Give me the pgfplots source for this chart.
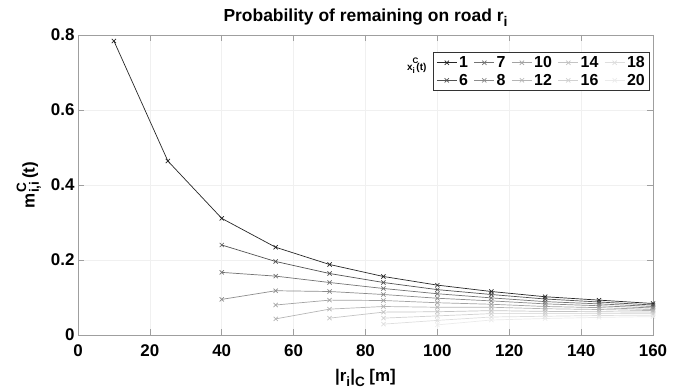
\documentclass[border=0pt]{standalone}
\usepackage{pgfplots}
\pgfplotsset{compat=1.18}
\usepackage{graphicx}
\usepackage{fontspec}
\setmainfont{Liberation Sans}

% sub- and superscripts set close to full size
\newcommand\sub[1]{\raisebox{-0.5ex}{\scalebox{0.8}{#1}}}
\newcommand\supsub[2]{\rlap{\raisebox{0.95ex}{\scalebox{0.8}{#1}}}\raisebox{-0.5ex}{\scalebox{0.8}{#2}}}
\newcommand\supsubwide[2]{\rlap{\raisebox{1.35ex}{\scalebox{0.8}{#1}}}\raisebox{-0.7ex}{\scalebox{0.8}{#2}}}

% grey ramp for the ten initial counts
\definecolor{g1}{gray}{0.15}
\definecolor{g6}{gray}{0.32}
\definecolor{g7}{gray}{0.45}
\definecolor{g8}{gray}{0.55}
\definecolor{g10}{gray}{0.64}
\definecolor{g12}{gray}{0.71}
\definecolor{g14}{gray}{0.77}
\definecolor{g16}{gray}{0.82}
\definecolor{g18}{gray}{0.87}
\definecolor{g20}{gray}{0.92}

\begin{document}
\begin{tikzpicture}
\begin{axis}[
  width=575bp, height=300bp, scale only axis,
  xmin=0, xmax=160, ymin=0, ymax=0.8,
  xtick={0,20,40,60,80,100,120,140,160},
  ytick={0,0.2,0.4,0.6,0.8},
  yticklabel style={/pgf/number format/fixed},
  xticklabel style={yshift=-6bp},
  /pgf/number format/assume math mode=true,
  ticklabel style={font=\fontsize{17}{17}\selectfont\bfseries},
  grid=major, grid style={gray!12, line width=0.6bp},
  axis line style={gray!75, line width=0.7bp},
  tick align=inside, major tick length=6bp,
  tick style={gray!75, line width=0.7bp},
  title={\bfseries Probability of remaining on road r\sub{i}},
  title style={font=\fontsize{17.5}{17.5}\selectfont, yshift=-1bp},
  xlabel={\bfseries |r\sub{i}|\sub{C} [m]},
  ylabel={\bfseries m\supsub{C}{i,i}\,(t)},
  label style={font=\fontsize{17}{17}\selectfont},
  xlabel style={yshift=-6bp},
  ylabel style={yshift=3bp},
  every axis plot/.append style={line width=0.7bp, mark=x, mark size=3bp},
  legend columns=5,
  legend style={at={(0.995,0.943)}, anchor=north east,
    font=\fontsize{16}{16}\selectfont\bfseries, draw=black!80,
    line width=0.7bp, row sep=1bp,
    /tikz/every even column/.append style={column sep=4bp}},
  legend image code/.code={\draw[#1] (0bp,0bp) -- (20bp,0bp);
    \draw[#1, mark repeat=1] plot coordinates {(10bp,0bp)};},
]
% count 1
\addplot[g1] coordinates {(10,0.784)(25,0.464)(40,0.311)(55,0.234)(70,0.188)(85,0.156)(100,0.133)(115,0.116)(130,0.102)(145,0.093)(160,0.084)};
\addlegendentry{1}
% count 7
\addplot[g7] coordinates {(40,0.167)(55,0.157)(70,0.140)(85,0.124)(100,0.110)(115,0.099)(130,0.089)(145,0.083)(160,0.076)};
\addlegendentry{7}
% count 10
\addplot[g10] coordinates {(55,0.080)(70,0.093)(85,0.092)(100,0.086)(115,0.082)(130,0.076)(145,0.073)(160,0.068)};
\addlegendentry{10}
% count 14
\addplot[g14] coordinates {(70,0.045)(85,0.061)(100,0.062)(115,0.065)(130,0.063)(145,0.062)(160,0.061)};
\addlegendentry{14}
% count 18
\addplot[g18] coordinates {(85,0.029)(100,0.039)(115,0.048)(130,0.050)(145,0.052)(160,0.053)};
\addlegendentry{18}
% count 6
\addplot[g6] coordinates {(40,0.240)(55,0.196)(70,0.164)(85,0.140)(100,0.121)(115,0.108)(130,0.096)(145,0.088)(160,0.080)};
\addlegendentry{6}
% count 8
\addplot[g8] coordinates {(40,0.095)(55,0.118)(70,0.116)(85,0.108)(100,0.098)(115,0.091)(130,0.083)(145,0.078)(160,0.072)};
\addlegendentry{8}
% count 12
\addplot[g12] coordinates {(55,0.043)(70,0.069)(85,0.076)(100,0.074)(115,0.074)(130,0.070)(145,0.068)(160,0.065)};
\addlegendentry{12}
% count 16
\addplot[g16] coordinates {(85,0.045)(100,0.051)(115,0.057)(130,0.057)(145,0.057)(160,0.057)};
\addlegendentry{16}
% count 20
\addplot[g20] coordinates {(100,0.027)(115,0.040)(130,0.044)(145,0.047)(160,0.049)};
\addlegendentry{20}
% legend heading
\node[font=\fontsize{10}{10}\selectfont\bfseries, anchor=east, inner sep=0pt] at (axis cs:97.0,0.718) {x\supsubwide{C}{i}\,(t)};
\end{axis}
\path (-78bp,-55bp) rectangle (605bp,335bp);
\end{tikzpicture}
\end{document}
